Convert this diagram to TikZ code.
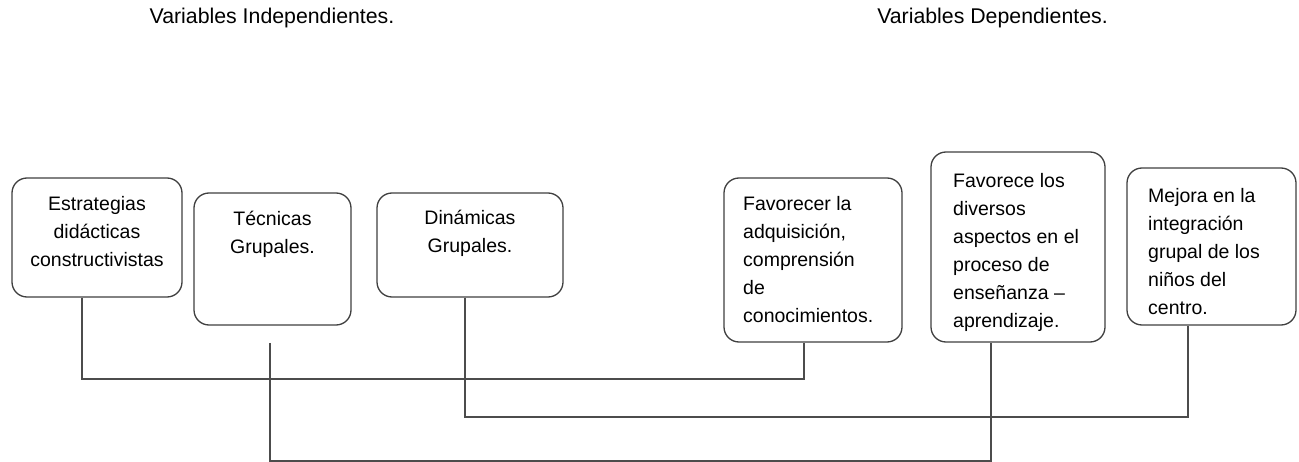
\documentclass[tikz,border=0pt]{standalone}
\usepackage{fontspec}
\setmainfont{Liberation Sans}
\begin{document}
\begin{tikzpicture}[x=1pt,y=-1pt,
  box/.style={draw=black!75, line width=1.3pt, rounded corners=15pt, inner sep=0pt},
  txt/.style={inner sep=0pt, font=\fontsize{19.5}{28}\selectfont},
  ttl/.style={inner sep=0pt, font=\fontsize{21.3}{24}\selectfont},
  conn/.style={draw=black!70, line width=1.3pt}]
\useasboundingbox[fill=white] (0,0) rectangle (1299,462);
% titles
\node[ttl] (ti) at (272,18) {Variables Independientes.};
\node[ttl] (td) at (992.5,18) {Variables Dependientes.};
% boxes
\node[box, minimum width=170pt, minimum height=119pt] (b1) at (97,237.5) {};
\node[box, minimum width=157pt, minimum height=132pt] (b2) at (272.5,259) {};
\node[box, minimum width=186pt, minimum height=104pt] (b3) at (470,245) {};
\node[box, minimum width=178pt, minimum height=164pt] (b4) at (813,260) {};
\node[box, minimum width=174pt, minimum height=190pt] (b5) at (1018,247) {};
\node[box, minimum width=169pt, minimum height=157pt] (b6) at (1211.5,246.5) {};
% texts
\node[txt, align=center, anchor=north] (t1) at (97,190.5) {\strut Estrategias\\didácticas\\constructivistas};
\node[txt, align=center, anchor=north] (t2) at (272.5,205.5) {\strut Técnicas\\Grupales.};
\node[txt, align=center, anchor=north] (t3) at (470,204.5) {\strut Dinámicas\\Grupales.};
\node[txt, align=left, anchor=north west] (t4) at (743,190.5) {\strut Favorecer la\\adquisición,\\comprensión\\de\\conocimientos.};
\node[txt, align=left, anchor=north west] (t5) at (953,167.5) {\strut Favorece los\\diversos\\aspectos en el\\proceso de\\enseñanza –\\aprendizaje.};
\node[txt, align=left, anchor=north west] (t6) at (1148,182.5) {\strut Mejora en la\\integración\\grupal de los\\niños del\\centro.};
% connector junctions
\coordinate (k1) at (82,379);
\coordinate (k4) at (804,379);
\coordinate (k3) at (465,417);
\coordinate (k6) at (1188,417);
\coordinate (f2) at (270,343);
\coordinate (k2) at (270,461);
\coordinate (k5) at (991,461);
% connectors
\draw[conn] (b1.south -| k1) -- (k1) -- (k4) -- (b4.south -| k4);
\draw[conn] (b3.south -| k3) -- (k3) -- (k6) -- (b6.south -| k6);
\draw[conn] (f2) -- (k2) -- (k5) -- (b5.south -| k5);
\end{tikzpicture}
\end{document}
